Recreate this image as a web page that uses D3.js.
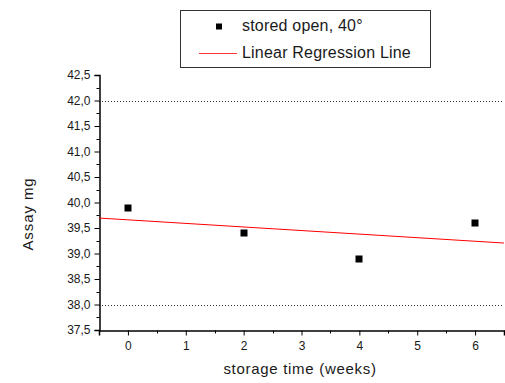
<!DOCTYPE html>
<meta charset="utf-8">
<style>
body { margin: 0; background: #fff; }
text { font-family: "Liberation Sans", Arial, sans-serif; fill: #1a1a1a; }
</style>
<svg width="505" height="383"></svg>
<script src="https://d3js.org/d3.v7.min.js"></script>
<script>
// data
var weeks = [0, 2, 4, 6];
var assay = [39.9, 39.4, 38.9, 39.6];
var xTicks = [0, 1, 2, 3, 4, 5, 6];
var yTicks = [37.5, 38, 38.5, 39, 39.5, 40, 40.5, 41, 41.5, 42, 42.5];
var limits = [38, 42];
var legendLabels = ["stored open, 40\u00b0", "Linear Regression Line"];

var svg = d3.select("svg");
var pLeft = 99, pRight = 504, pTop = 75, pBottom = 330;

var x = d3.scaleLinear().domain([-0.5, 6.5]).range([pLeft, pRight]);
var y = d3.scaleLinear().domain([37.5, 42.5]).range([pBottom, pTop]);

// least squares fit
var mx = d3.mean(weeks), my = d3.mean(assay);
var slope = d3.sum(weeks, function(d, i) { return (d - mx) * (assay[i] - my); }) /
            d3.sum(weeks, function(d) { return (d - mx) * (d - mx); });
var icpt = my - slope * mx;

// dotted limit lines
svg.selectAll("line.lim")
  .data(limits)
  .enter().append("line")
    .attr("class", "lim")
    .attr("x1", pLeft).attr("x2", pRight)
    .attr("y1", function(d) { return Math.round(y(d)) + 0.5; })
    .attr("y2", function(d) { return Math.round(y(d)) + 0.5; })
    .attr("stroke", "#333")
    .attr("stroke-dasharray", "1,2");

// y axis
var yAxis = d3.axisLeft(y).tickValues(yTicks).tickSize(5).tickPadding(4)
  .tickFormat(function(d) { return d3.format(".1f")(d).replace(".", ","); });
var gy = svg.append("g").attr("transform", "translate(" + (pLeft + 0.5) + ",0)").call(yAxis);
gy.selectAll("text").style("font-size", "12px");
gy.append("g").selectAll("line")
  .data(d3.range(37.75, 42.5, 0.5))
  .enter().append("line")
    .attr("x1", -3).attr("x2", 0)
    .attr("y1", function(d) { return Math.round(y(d)) + 0.5; })
    .attr("y2", function(d) { return Math.round(y(d)) + 0.5; })
    .attr("stroke", "#000");

// x axis
var xAxis = d3.axisBottom(x).tickValues(xTicks).tickSize(5).tickPadding(6).tickFormat(d3.format("d"));
var gx = svg.append("g").attr("transform", "translate(0," + (pBottom + 0.5) + ")").call(xAxis);
gx.selectAll("text").style("font-size", "12px");
gx.append("g").selectAll("line")
  .data([-0.5, 0.5, 1.5, 2.5, 3.5, 4.5, 5.5, 6.5])
  .enter().append("line")
    .attr("x1", function(d) { return Math.round(x(d)) + 0.5; })
    .attr("x2", function(d) { return Math.round(x(d)) + 0.5; })
    .attr("y1", 0).attr("y2", 3)
    .attr("stroke", "#000");
svg.selectAll(".domain").attr("stroke", "#000").attr("stroke-width", 1.5);

// regression line
svg.append("line")
  .attr("x1", x(-0.5)).attr("y1", y(icpt + slope * -0.5))
  .attr("x2", x(6.5)).attr("y2", y(icpt + slope * 6.5))
  .attr("stroke", "red").attr("stroke-width", 1);

// points
svg.selectAll("rect.pt")
  .data(weeks)
  .enter().append("rect")
    .attr("class", "pt")
    .attr("x", function(d) { return Math.round(x(d)) - 3.5; })
    .attr("y", function(d, i) { return Math.round(y(assay[i])) - 3.5; })
    .attr("width", 7).attr("height", 7)
    .attr("fill", "#000");

// axis titles
svg.append("text")
  .attr("x", 300).attr("y", 374)
  .attr("text-anchor", "middle")
  .style("font-size", "15px")
  .style("letter-spacing", "0.7px")
  .text("storage time (weeks)");
svg.append("text")
  .attr("transform", "translate(33,214) rotate(-90)")
  .attr("text-anchor", "middle")
  .style("font-size", "15px")
  .style("letter-spacing", "0.9px")
  .text("Assay mg");

// legend
var lg = svg.append("g");
lg.append("rect")
  .attr("x", 180.5).attr("y", 10.5).attr("width", 250).attr("height", 57)
  .attr("fill", "#fff").attr("stroke", "#333").attr("stroke-width", 1);
lg.append("rect").attr("x", 216).attr("y", 23.5).attr("width", 6).attr("height", 6).attr("fill", "#000");
lg.append("line").attr("x1", 199).attr("x2", 237).attr("y1", 53.5).attr("y2", 53.5).attr("stroke", "#f33");
lg.selectAll("text")
  .data(legendLabels)
  .enter().append("text")
    .attr("x", 242)
    .attr("y", function(d, i) { return 31 + i * 26.5; })
    .style("font-size", "16px")
    .style("letter-spacing", "0.2px")
    .text(function(d) { return d; });
</script>
